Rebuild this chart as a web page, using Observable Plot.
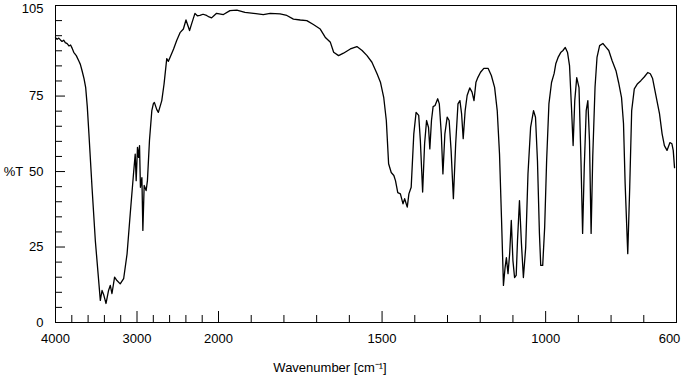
<!DOCTYPE html>
<html><head><meta charset="utf-8">
<script src="https://cdn.jsdelivr.net/npm/d3@7"></script>
<script src="https://cdn.jsdelivr.net/npm/@observablehq/plot@0.6"></script>
<style>
body{margin:0;background:#fff}
#chart svg{font-family:"Liberation Sans",Arial,sans-serif;background:#fff}
</style>
</head><body><div id="chart"></div>
<script>
const wavenumber = [
4000,3980,3960,3939,3920,3900,3880,3857,3835,3815,3795,3776,3745,3715,3695,3674,3650,3630,3610,3590,3552,3511,3450,3429,3410,3380,3349,3328,3307,3275,3246,3206,3164,3122,3083,3043,3022,3010,2994,2981,2969,2958,2940,2928,2912,2888,2872,2847,2818,2799,2787,2757,2738,2696,2668,2635,2615,2595,2551,2513,2472,2431,2399,2355,2330,2289,2260,2228,2190,2146,2115,2085,2050,2024,
1985,1965,1944,1919,1893,1863,1842,1812,1791,1771,1750,1730,1710,1689,1674,1658,1648,1633,1618,1597,1577,1561,1546,1531,1515,1505,1495,1487,1480,1472,1464,1459,1452,1444,1436,1431,1423,1418,1411,1403,1396,1388,1383,1376,1370,1364,1358,1354,1349,1344,1338,1330,1325,1319,1314,1308,1301,1295,1289,1282,1275,1268,1262,1257,1252,1246,1240,1232,1225,1219,1213,1207,1199,1189,1176,1166,1156,1148,1141,1135,1129,1124,1120,1115,1110,1105,1100,1095,1090,1086,1080,1074,1068,1061,1054,1046,1037,1031,1025,1019,1015,1009,1003,997,990,982,974,969,962,954,947,940,933,927,921,916,911,905,898,892,887,882,876,871,866,861,856,849,843,835,825,817,807,797,785,777,768,762,757,749,743,737,729,719,709,698,688,680,673,663,652,644,637,629,620,614,610,606,601
];
const transmittance = [
94.3,93.8,94.2,93.6,93.1,93.5,92.7,92.4,91.6,91.9,90.8,89.5,88.4,86.7,85.5,83.4,80.8,77.9,71.5,62.5,44.8,27,7.3,10.6,9.3,6.3,10.6,12.3,9.6,15,13.9,12.8,14.5,22.7,36,49.2,55.8,47,58,54.7,58.6,44.8,48,30.5,45.4,43.7,47,60.3,70.2,72.5,72.9,70.5,69.6,73.5,79,87.4,86.5,87.8,90.6,93.4,96,97.2,100.2,96.7,98.9,102.4,101.6,101.7,102.1,101.7,101.2,100.9,101.8,102.4,
102,103.3,103.5,102.7,102.4,102,102.4,102.2,101.7,100.5,100.2,100,98.7,97.2,94.5,92.8,89.5,88.4,89.2,90.6,91.4,90.1,88.4,86.2,82.3,79.6,74.6,66.9,52.6,49.7,48.7,47,43,42.6,39.3,41,38.2,42.6,44.8,62.5,69.6,68.6,60.3,43.2,59.2,66.9,64.6,57.5,66.9,71.5,71.9,74.1,72.4,62.5,49.2,62.5,68,66.9,57,41,59.2,72.4,73.5,69.2,60.9,70.2,75.2,77.7,76.3,73.5,79.6,81.2,82.9,84.2,84.2,81.8,77.9,70.2,55.8,34.8,12.3,18.2,21.5,16.2,22.8,33.8,20.5,14.9,15.6,27.2,40.4,26.2,14.9,24.8,49.2,64.6,70.2,68,53.6,29.5,18.9,18.9,31.5,53.6,72.4,79.5,82.5,85.7,87.8,89.4,90.1,91.1,89.4,85.1,71.2,58.6,73.5,81.1,77.8,53.6,29.5,51.3,70.2,73.5,60.3,29.5,55,78,87.8,91.7,92.4,91.4,90.1,86.8,83.4,79.5,74.5,65.9,46,22.8,44.8,70.2,77.4,79.1,80.1,81.4,82.8,82.4,80.8,75.2,69.2,62.5,58.6,57,59.6,59.2,57,51.3
];
const xLabelTicks = [4000,3000,2000,1500,1000];
const xEndLabel = [600];
const xMajorTicks = [3000,2000,1500,1000];
const xMinorTicks = [3800,3600,3400,3200,2800,2600,2400,2200,1900,1800,1700,1600,1400,1300,1200,1100,900,800,700];
const yLabelTicks = [0,25,50,75];
const yTopLabel = [105];
const yMajorTicks = [25,50,75];
const yMinorTicks = [5,10,15,20,30,35,40,45,55,60,65,70,80,85,90,95,100];
const xTitle = "Wavenumber [cm⁻¹]";
const yTitle = "%T";

const spectrum = wavenumber.map((w, i) => ({w, t: transmittance[i]}));

const chart = Plot.plot({
  width: 683, height: 375,
  marginLeft: 55, marginRight: 7, marginTop: 5, marginBottom: 53,
  style: {fontFamily: "Liberation Sans, Arial, sans-serif", fontSize: "13px", color: "black"},
  x: {type: "linear", domain: [4000, 2000, 600], range: [55, 218, 676]},
  y: {domain: [0, 105]},
  marks: [
    Plot.frame({stroke: "black", strokeWidth: 1}),
    Plot.axisX(xMinorTicks, {anchor: "bottom", tickSize: -7, tickFormat: () => "", label: null, stroke: "black"}),
    Plot.axisX(xMajorTicks, {anchor: "bottom", tickSize: -11, tickFormat: () => "", label: null, stroke: "black"}),
    Plot.axisX(xLabelTicks, {anchor: "bottom", tickSize: 0, tickPadding: 11, fontSize: 13, tickFormat: d => String(d), label: null, fill: "black"}),
    Plot.text(xEndLabel, {x: d => d, frameAnchor: "bottom", lineAnchor: "top", dy: 11, dx: -7, fontSize: 13, fill: "black", text: d => String(d)}),
    Plot.axisY(yMinorTicks, {anchor: "left", tickSize: -7, tickFormat: () => "", label: null, stroke: "black"}),
    Plot.axisY(yMajorTicks, {anchor: "left", tickSize: -10, tickFormat: () => "", label: null, stroke: "black"}),
    Plot.axisY(yLabelTicks, {anchor: "left", tickSize: 0, tickPadding: 12, fontSize: 13, tickFormat: d => String(d), label: null, fill: "black"}),
    Plot.text(yTopLabel, {y: d => d, frameAnchor: "left", textAnchor: "end", dx: -12, dy: 3, fontSize: 13, fill: "black", text: d => String(d)}),
    Plot.line(spectrum, {x: "w", y: "t", stroke: "black", strokeWidth: 1.3, strokeLinejoin: "round"}),
    Plot.text([xTitle], {frameAnchor: "bottom", lineAnchor: "middle", textAnchor: "middle", dx: -36, dy: 45, fontSize: 13, fill: "black"}),
    Plot.text([yTitle], {frameAnchor: "left", y: [50], textAnchor: "middle", dx: -42, fontSize: 13, fill: "black"})
  ]
});
document.getElementById("chart").appendChild(chart);
</script>
</body></html>
